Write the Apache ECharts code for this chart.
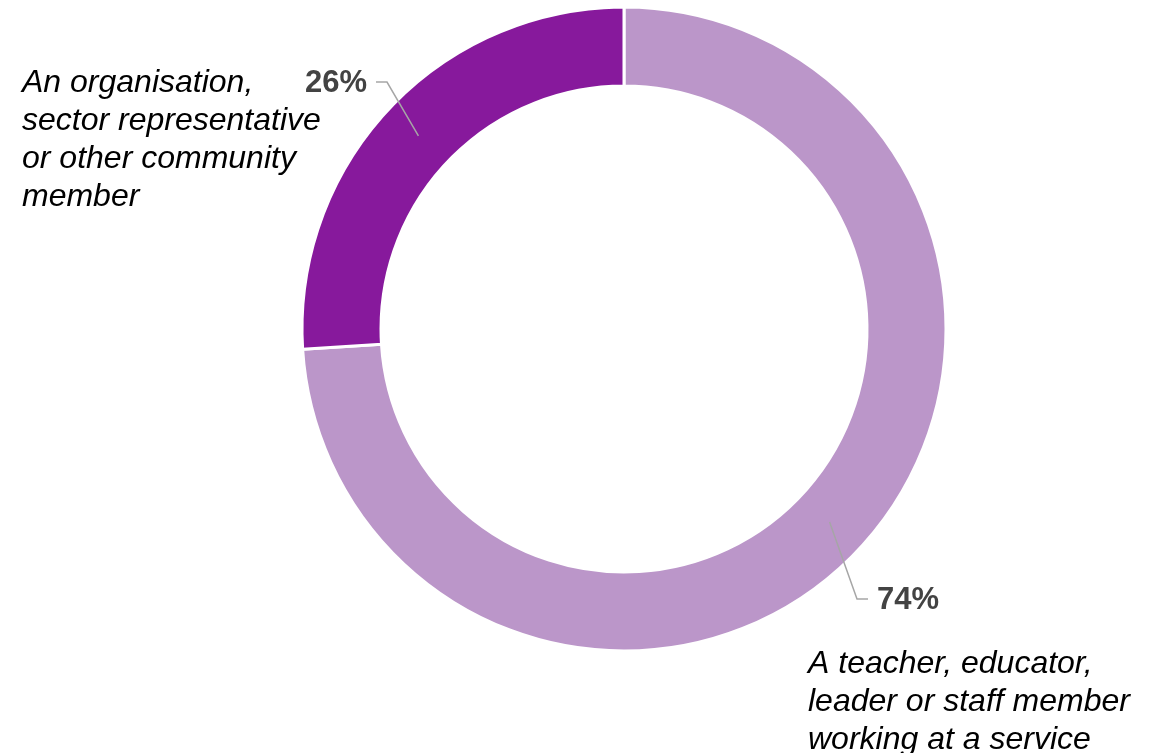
<!DOCTYPE html>
<html>
<head>
<meta charset="utf-8">
<script src="https://cdn.jsdelivr.net/npm/echarts@6/dist/echarts.min.js"></script>
<style>
  html, body { margin: 0; padding: 0; background: #ffffff; }
  #chart { width: 1156px; height: 753px; }
</style>
</head>
<body>
<div id="chart"></div>
<script>
// ---- data ----
const categories = [
  'A teacher, educator,\nleader or staff member\nworking at a service',
  'An organisation,\nsector representative\nor other community\nmember'
];
const shares = [74, 26];
const sliceColors = ['#BB96C9', '#87199C'];

const chart = echarts.init(document.getElementById('chart'), null, { renderer: 'canvas' });

const pieData = categories.map((c, i) => ({
  name: c, value: shares[i], itemStyle: { color: sliceColors[i] }
}));
const labelData = categories.map((c, i) => ({ name: c, value: shares[i] }));

const center = [624, 329];
const labelFont = { fontFamily: 'Liberation Sans, Arial, sans-serif' };

// label anchor positions (layout only)
const labelPos = [
  { x: 877, y: 600, align: 'left' },
  { x: 367, y: 83, align: 'right' }
];

const option = {
  backgroundColor: '#ffffff',
  animation: false,
  series: [
    {
      type: 'pie',
      center: center,
      radius: [243, 322],
      startAngle: 90,
      clockwise: true,
      silent: true,
      itemStyle: { borderColor: '#ffffff', borderWidth: 3 },
      label: { show: false },
      labelLine: { show: false },
      data: pieData
    },
    {
      type: 'pie',
      center: center,
      radius: [0, 282],
      startAngle: 90,
      clockwise: true,
      silent: true,
      z: 5,
      itemStyle: { color: 'rgba(0,0,0,0)', borderWidth: 0 },
      label: {
        show: true,
        position: 'outside',
        formatter: '{c}%',
        fontSize: 31,
        fontWeight: 'bold',
        color: '#434343',
        fontFamily: labelFont.fontFamily
      },
      labelLine: {
        show: true,
        length: 40,
        length2: 10,
        lineStyle: { color: '#A6A6A6', width: 1.5 }
      },
      labelLayout: function (params) {
        const p = labelPos[params.dataIndex];
        const start = params.labelLinePoints ? params.labelLinePoints[0] : null;
        const dir = p.align === 'left' ? -1 : 1;
        const endPt = [p.x + dir * 9, p.y - 1];
        const elbow = [p.x + dir * 20, p.y - 1];
        const res = { x: p.x, y: p.y, align: p.align, verticalAlign: 'middle' };
        if (start) res.labelLinePoints = [start, elbow, endPt];
        return res;
      },
      data: labelData
    }
  ],
  graphic: [
    {
      type: 'text',
      left: 22,
      top: 64,
      silent: true,
      style: {
        text: categories[1],
        fontSize: 32,
        lineHeight: 38,
        fontStyle: 'italic',
        fontFamily: labelFont.fontFamily,
        fill: '#000000'
      }
    },
    {
      type: 'text',
      left: 808,
      top: 645,
      silent: true,
      style: {
        text: categories[0],
        fontSize: 32,
        lineHeight: 38,
        fontStyle: 'italic',
        fontFamily: labelFont.fontFamily,
        fill: '#000000'
      }
    }
  ]
};

chart.setOption(option);
</script>
</body>
</html>
